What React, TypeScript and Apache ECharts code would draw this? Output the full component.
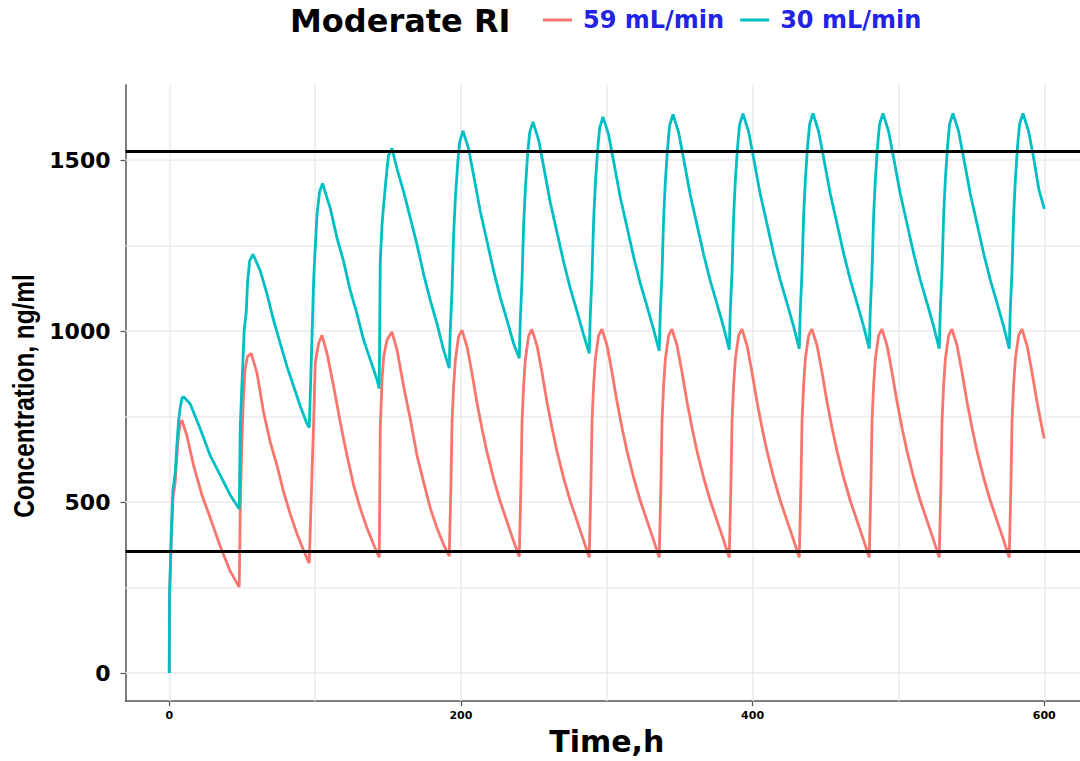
import React, { useEffect, useRef } from "react";
import * as echarts from "echarts";

const legendTitle = "Moderate RI";
const seriesNames = ["59 mL/min", "30 mL/min"];
const seriesColors = ["#F8766D", "#00BFC4"];
const xAxisTitle = "Time,h";
const yAxisTitle = "Concentration, ng/ml";

const xTickValues = [0, 200, 400, 600];
const yTickValues = [0, 500, 1000, 1500];
const xGridValues = [0, 100, 200, 300, 400, 500, 600];
const yGridValues = [0, 250, 500, 750, 1000, 1250, 1500];
const referenceLevels = [1525, 357];

// 59 mL/min (time h, concentration ng/ml)
const conc59: [number, number][] = [
  [0, 0], [0.2, 220], [1.4, 390], [2.5, 510], [4.1, 560], [5.3, 640], [6.4, 700], [7.5, 730], [8.7, 740],
  [12.1, 694], [16.7, 607], [22.4, 521], [28.1, 454], [35, 370], [41.8, 298], [47.5, 255], [48, 252],
  [48.7, 482], [49.8, 675], [50.9, 810], [52, 888], [53.6, 925], [56.2, 935], [60.2, 877], [64.7, 762],
  [69.3, 675], [73.9, 607], [78.4, 530], [83, 465], [87.5, 408], [92, 360], [95.5, 325], [96, 322],
  [97.9, 588], [99, 733], [100.1, 906], [102.4, 964], [104.7, 988], [108.2, 935], [112.7, 839], [117.3, 733],
  [121.9, 636], [126.4, 550], [131, 482], [135.6, 424], [140.1, 376], [144, 338],
  [144.7, 714], [145.9, 858], [147, 925], [149.3, 974], [152.7, 998], [156.2, 945], [160.7, 839], [165.3, 743],
  [169.9, 636], [174.4, 559], [179, 482], [183.6, 424], [188.1, 376], [192, 342],
  [193.2, 559], [193.9, 733], [195, 839], [196.2, 916], [198.4, 984], [200.7, 1003], [204.2, 955], [207.6, 877],
  [211, 791], [214.5, 714], [217.9, 646], [222.4, 569], [227, 501], [231.6, 443], [236.1, 386], [240, 340],
  [241.2, 560], [241.9, 735], [243, 841], [244.2, 918], [246.4, 986], [248.7, 1005], [252.2, 957], [255.6, 879],
  [259, 793], [262.5, 716], [265.9, 648], [270.4, 571], [275, 503], [279.6, 445], [284.1, 388], [288, 338],
  [289.2, 561], [289.9, 736], [291, 842], [292.2, 919], [294.4, 987], [296.7, 1006], [300.2, 958], [303.6, 880],
  [307, 794], [310.5, 717], [313.9, 649], [318.4, 572], [323, 504], [327.6, 446], [332.1, 389], [336, 338],
  [337.2, 561], [337.9, 736], [339, 842], [340.2, 919], [342.4, 987], [344.7, 1006], [348.2, 958], [351.6, 880],
  [355, 794], [358.5, 717], [361.9, 649], [366.4, 572], [371, 504], [375.6, 446], [380.1, 389], [384, 338],
  [385.2, 561], [385.9, 736], [387, 842], [388.2, 919], [390.4, 987], [392.7, 1006], [396.2, 958], [399.6, 880],
  [403, 794], [406.5, 717], [409.9, 649], [414.4, 572], [419, 504], [423.6, 446], [428.1, 389], [432, 338],
  [433.2, 561], [433.9, 736], [435, 842], [436.2, 919], [438.4, 987], [440.7, 1006], [444.2, 958], [447.6, 880],
  [451, 794], [454.5, 717], [457.9, 649], [462.4, 572], [467, 504], [471.6, 446], [476.1, 389], [480, 338],
  [481.2, 561], [481.9, 736], [483, 842], [484.2, 919], [486.4, 987], [488.7, 1006], [492.2, 958], [495.6, 880],
  [499, 794], [502.5, 717], [505.9, 649], [510.4, 572], [515, 504], [519.6, 446], [524.1, 389], [528, 338],
  [529.2, 561], [529.9, 736], [531, 842], [532.2, 919], [534.4, 987], [536.7, 1006], [540.2, 958], [543.6, 880],
  [547, 794], [550.5, 717], [553.9, 649], [558.4, 572], [563, 504], [567.6, 446], [572.1, 389], [576, 338],
  [577.2, 561], [577.9, 736], [579, 842], [580.2, 919], [582.4, 987], [584.7, 1006], [588.2, 958], [591.6, 880],
  [595, 794], [598.5, 717], [600, 686],
];

// 30 mL/min (time h, concentration ng/ml)
const conc30: [number, number][] = [
  [0, 0], [0.2, 231], [1.4, 405], [2.5, 535], [4.1, 587], [5.3, 671], [6.4, 738], [7.5, 775], [8.7, 804],
  [9.8, 808], [14.4, 787], [21.3, 714], [28.1, 636], [35, 578], [41.8, 521], [48, 480],
  [48.7, 723], [50.3, 892], [51.4, 1004], [52.8, 1056], [53.7, 1143], [55.1, 1205], [57.4, 1225], [62.4, 1177],
  [67, 1109], [71.5, 1032], [76.1, 964], [80.7, 897], [85.3, 839], [89.8, 781], [94.4, 730], [96, 718],
  [97.9, 983], [99, 1147], [100.1, 1244], [101.3, 1340], [103.1, 1408], [105.1, 1432], [110.4, 1360], [115, 1273],
  [119.5, 1205], [124.1, 1119], [128.7, 1051], [133.3, 974], [137.9, 916], [142.5, 858], [144, 832],
  [144.7, 1205], [145.9, 1311], [147, 1369], [149.3, 1475], [150.4, 1514], [152.7, 1535], [156.2, 1475], [160.7, 1408],
  [165.3, 1331], [169.9, 1253], [174.4, 1167], [179, 1090], [183.6, 1022], [188.1, 945], [192, 892],
  [192.7, 1003], [193.9, 1119], [195, 1282], [196.2, 1389], [197.7, 1485], [199.1, 1552], [201.4, 1586], [205.3, 1533],
  [208.7, 1456], [213.3, 1350], [217.9, 1263], [222.4, 1177], [227, 1099], [231.6, 1032], [236.1, 964], [240, 921],
  [240.7, 1032], [241.9, 1150], [243, 1310], [244.2, 1418], [245.7, 1515], [247.1, 1580], [249.4, 1612], [253.3, 1559],
  [256.7, 1482], [261.3, 1376], [265.9, 1289], [270.4, 1203], [275, 1125], [279.6, 1058], [284.1, 990], [288, 935],
  [288.7, 1046], [289.9, 1165], [291, 1325], [292.2, 1432], [293.7, 1528], [295.1, 1594], [297.4, 1627], [301.3, 1574],
  [304.7, 1497], [309.3, 1391], [313.9, 1304], [318.4, 1218], [323, 1140], [327.6, 1073], [332.1, 1005], [336, 942],
  [336.7, 1053], [337.9, 1170], [339, 1332], [340.2, 1439], [341.7, 1535], [343.1, 1601], [345.4, 1634], [349.3, 1581],
  [352.7, 1504], [357.3, 1398], [361.9, 1311], [366.4, 1225], [371, 1147], [375.6, 1080], [380.1, 1012], [384, 946],
  [384.7, 1057], [385.9, 1173], [387, 1336], [388.2, 1443], [389.7, 1539], [391.1, 1604], [393.4, 1636], [397.3, 1583],
  [400.7, 1506], [405.3, 1400], [409.9, 1313], [414.4, 1227], [419, 1149], [423.6, 1082], [428.1, 1014], [432, 948],
  [432.7, 1059], [433.9, 1175], [435, 1338], [436.2, 1445], [437.7, 1540], [439.1, 1605], [441.4, 1637], [445.3, 1584],
  [448.7, 1507], [453.3, 1401], [457.9, 1314], [462.4, 1228], [467, 1150], [471.6, 1083], [476.1, 1015], [480, 949],
  [480.7, 1060], [481.9, 1176], [483, 1338], [484.2, 1445], [485.7, 1541], [487.1, 1606], [489.4, 1637], [493.3, 1584],
  [496.7, 1507], [501.3, 1401], [505.9, 1314], [510.4, 1228], [515, 1150], [519.6, 1083], [524.1, 1015], [528, 949],
  [528.7, 1060], [529.9, 1176], [531, 1338], [532.2, 1445], [533.7, 1541], [535.1, 1606], [537.4, 1637], [541.3, 1584],
  [544.7, 1507], [549.3, 1401], [553.9, 1314], [558.4, 1228], [563, 1150], [567.6, 1083], [572.1, 1015], [576, 949],
  [576.7, 1060], [577.9, 1176], [579, 1338], [580.2, 1445], [581.7, 1541], [583.1, 1606], [585.4, 1637], [589.3, 1584],
  [592.7, 1507], [596.2, 1417], [600, 1358],
];

const BOLD_FONT = "'DejaVu Sans', Verdana, sans-serif";

export default function App() {
  const ref = useRef<HTMLDivElement | null>(null);

  useEffect(() => {
    if (!ref.current) return;
    const chart = echarts.init(ref.current, undefined, { renderer: "svg" });
    const option: any = {
      animation: false,
      backgroundColor: "#ffffff",
      title: {
        text: legendTitle,
        left: 290,
        top: 5,
        padding: 0,
        textStyle: { fontFamily: BOLD_FONT, fontWeight: "bold", fontSize: 32, color: "#000" },
      },
      legend: {
        data: seriesNames,
        left: 543,
        top: 8,
        padding: 0,
        icon: "rect",
        itemWidth: 29,
        itemHeight: 3,
        itemGap: 16,
        selectedMode: false,
        textStyle: {
          fontFamily: BOLD_FONT,
          fontWeight: "bold",
          fontSize: 24,
          color: "#2323E6",
          padding: [0, 0, 0, 6],
        },
      },
      grid: { left: 125.5, right: 0, top: 85, bottom: 53, containLabel: false },
      xAxis: {
        type: "value",
        min: -30,
        max: 630,
        name: xAxisTitle,
        nameLocation: "middle",
        nameGap: 20,
        nameTextStyle: {
          fontFamily: BOLD_FONT,
          fontWeight: "bold",
          fontSize: 30,
          color: "#000",
          verticalAlign: "top",
        },
        axisLine: { show: true, onZero: false, lineStyle: { color: "#555", width: 1.5 } },
        axisTick: { show: true, length: 5, customValues: xTickValues, lineStyle: { color: "#555", width: 1.2 } },
        axisLabel: {
          customValues: xTickValues,
          margin: 9,
          fontFamily: BOLD_FONT,
          fontWeight: "bold",
          fontSize: 11,
          color: "#000",
          formatter: (v: number) => String(v),
        },
        splitLine: { show: false },
      },
      yAxis: {
        type: "value",
        min: -82,
        max: 1720,
        axisLine: { show: true, onZero: false, lineStyle: { color: "#555", width: 1.5 } },
        axisTick: { show: true, length: 5, customValues: yTickValues, lineStyle: { color: "#555", width: 1.2 } },
        axisLabel: {
          customValues: yTickValues,
          margin: 15,
          fontFamily: BOLD_FONT,
          fontWeight: "bold",
          fontSize: 22,
          color: "#000",
          formatter: (v: number) => String(v),
        },
        splitLine: { show: false },
      },
      graphic: [
        {
          type: "text",
          x: 24,
          y: 396,
          rotation: Math.PI / 2,
          scaleX: 0.84,
          style: {
            text: yAxisTitle,
            font: "bold 29px 'Liberation Sans', Arial, sans-serif",
            fill: "#000",
            textAlign: "center",
            textVerticalAlign: "middle",
          },
        },
      ],
      series: [
        {
          type: "line",
          name: "gridlines",
          data: [],
          silent: true,
          markLine: {
            silent: true,
            z: 1,
            symbol: ["none", "none"],
            label: { show: false },
            emphasis: { disabled: true },
            lineStyle: { color: "#EBEBEB", width: 1.5, type: "solid" },
            data: [
              ...yGridValues.map((v) => ({ yAxis: v })),
              ...xGridValues.map((v) => ({ xAxis: v })),
            ],
          },
        },
        {
          type: "line",
          name: seriesNames[0],
          data: conc59,
          showSymbol: false,
          symbol: "none",
          z: 3,
          lineStyle: { color: seriesColors[0], width: 2.8 },
          itemStyle: { color: seriesColors[0] },
          emphasis: { disabled: true },
        },
        {
          type: "line",
          name: seriesNames[1],
          data: conc30,
          showSymbol: false,
          symbol: "none",
          z: 4,
          lineStyle: { color: seriesColors[1], width: 2.8 },
          itemStyle: { color: seriesColors[1] },
          emphasis: { disabled: true },
        },
        {
          type: "line",
          name: "reference",
          data: [],
          silent: true,
          markLine: {
            silent: true,
            z: 6,
            symbol: ["none", "none"],
            label: { show: false },
            emphasis: { disabled: true },
            lineStyle: { color: "#000", width: 3, type: "solid" },
            data: referenceLevels.map((v) => ({ yAxis: v })),
          },
        },
      ],
    };
    chart.setOption(option);
    return () => chart.dispose();
  }, []);

  return (
    <div
      style={{
        position: "fixed",
        left: 0,
        top: 0,
        width: 1080,
        height: 761,
        overflow: "hidden",
        background: "#fff",
      }}
    >
      <div ref={ref} style={{ width: 1088, height: 761 }} />
    </div>
  );
}
